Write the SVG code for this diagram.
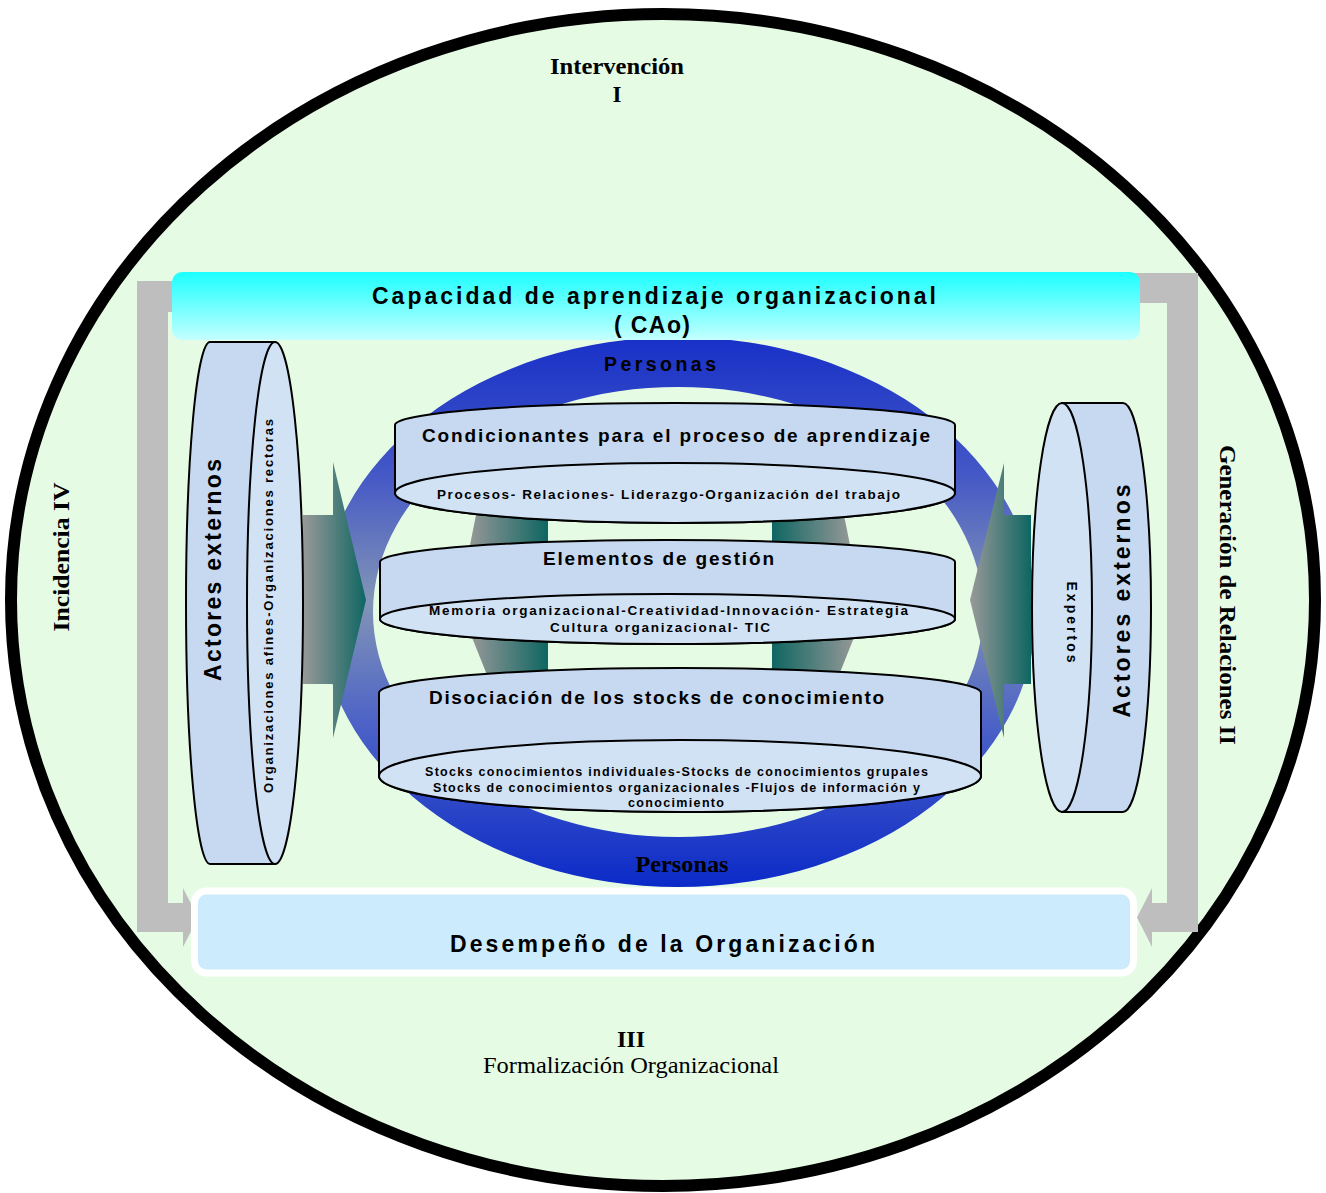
<svg xmlns="http://www.w3.org/2000/svg" width="1326" height="1193" viewBox="0 0 1326 1193">
<defs>
<style>
.s{font-family:"Liberation Sans",Arial,sans-serif;font-weight:bold;fill:#000}
.t{font-family:"Liberation Serif","Times New Roman",serif;fill:#000}
.tb{font-family:"Liberation Serif","Times New Roman",serif;font-weight:bold;fill:#000}
.body{fill:#C6D9F0;stroke:#000;stroke-width:2}
.face{fill:#D1E2F5;stroke:#000;stroke-width:2}
.gray{fill:#BEBEBE}
</style>
<linearGradient id="hdr" x1="0" y1="0" x2="0" y2="1">
<stop offset="0" stop-color="#1CFFFF"/>
<stop offset="1" stop-color="#C4FFFF"/>
</linearGradient>
<linearGradient id="ring" x1="0" y1="0" x2="0" y2="1">
<stop offset="0" stop-color="#1830C8"/>
<stop offset="0.25" stop-color="#4458C6"/>
<stop offset="0.48" stop-color="#8395B6"/>
<stop offset="0.7" stop-color="#4D63C6"/>
<stop offset="1" stop-color="#0B2AC8"/>
</linearGradient>
<linearGradient id="gt" x1="0" y1="0" x2="1" y2="0">
<stop offset="0" stop-color="#999999"/>
<stop offset="1" stop-color="#0E6662"/>
</linearGradient>
<linearGradient id="tg" x1="0" y1="0" x2="1" y2="0">
<stop offset="0" stop-color="#0E6662"/>
<stop offset="1" stop-color="#999999"/>
</linearGradient>
</defs>

<g id="background">
<ellipse cx="663" cy="600" rx="652" ry="586" fill="#E6FBE4" stroke="#000" stroke-width="12"/>
</g>

<g id="connectors">
<path id="arrow-incidencia" class="gray" d="M137,281 H176 V312 H168 V903 H183 V888 L198,917.5 L183,947 V932 H137 Z"/>
<path id="arrow-generacion" class="gray" d="M1134,273 H1198 V932 H1152 V947 L1137,917.5 L1152,888 V903 H1167 V303 H1134 Z"/>
</g>

<g id="personas-ring">
<path fill="url(#ring)" fill-rule="evenodd" d="M320,612 A358,275 0 1 0 1036,612 A358,275 0 1 0 320,612 Z M373,612 A305,225 0 1 0 983,612 A305,225 0 1 0 373,612 Z"/>
<text class="s" x="660" y="371" font-size="19.5" text-anchor="middle" textLength="112" lengthAdjust="spacing">Personas</text>
<text class="tb" x="682" y="872" font-size="24" text-anchor="middle" textLength="93" lengthAdjust="spacingAndGlyphs">Personas</text>
</g>

<g id="header">
<rect x="172" y="272" width="968" height="68" rx="10" fill="url(#hdr)"/>
<text class="s" x="654" y="304" font-size="23" text-anchor="middle" textLength="564" lengthAdjust="spacing">Capacidad de aprendizaje organizacional</text>
<text class="s" x="652" y="333" font-size="23" text-anchor="middle" textLength="76" lengthAdjust="spacing">( CAo)</text>
</g>

<g id="inner-arrows">
<polygon fill="url(#gt)" points="478,505 548,505 548,560 467,560"/>
<polygon fill="url(#tg)" points="772,505 842,505 853,560 772,560"/>
<polygon fill="url(#gt)" points="469,630 548,630 548,690 493,690"/>
<polygon fill="url(#tg)" points="772,630 857,630 833,690 772,690"/>
</g>

<g id="side-arrows">
<path fill="url(#gt)" d="M303,515 H333 V462 L366,600 L333,738 V684 H303 Z"/>
<path fill="url(#gt)" d="M1031,515 H1004 V463 L970,600 L1004,738 V684 H1031 Z"/>
</g>

<g id="cyl-condicionantes">
<path class="body" d="M395,425 A280,22 0 0 1 955,425 V493 A280,30 0 0 1 395,493 Z"/>
<ellipse class="face" cx="675" cy="493" rx="280" ry="30"/>
<text class="s" x="676" y="442" font-size="19" text-anchor="middle" textLength="508" lengthAdjust="spacing">Condicionantes para el proceso de aprendizaje</text>
<text class="s" x="668.5" y="499" font-size="13.5" text-anchor="middle" textLength="463" lengthAdjust="spacing">Procesos- Relaciones- Liderazgo-Organización del trabajo</text>
</g>

<g id="cyl-elementos">
<path class="body" d="M380,562 A287.5,22 0 0 1 955,562 V619 A287.5,25 0 0 1 380,619 Z"/>
<ellipse class="face" cx="667.5" cy="619" rx="287.5" ry="25"/>
<text class="s" x="658.5" y="565" font-size="19" text-anchor="middle" textLength="231" lengthAdjust="spacing">Elementos de gestión</text>
<text class="s" x="668.5" y="615" font-size="13.5" text-anchor="middle" textLength="479" lengthAdjust="spacing">Memoria organizacional-Creatividad-Innovación- Estrategia</text>
<text class="s" x="660" y="632" font-size="13.5" text-anchor="middle" textLength="220" lengthAdjust="spacing">Cultura organizacional- TIC</text>
</g>

<g id="cyl-disociacion">
<path class="body" d="M379,693 A301,25 0 0 1 981,693 V776 A301,36 0 0 1 379,776 Z"/>
<ellipse class="face" cx="680" cy="776" rx="301" ry="36"/>
<text class="s" x="656.5" y="704" font-size="19" text-anchor="middle" textLength="455" lengthAdjust="spacing">Disociación de los stocks de conocimiento</text>
<text class="s" x="676.5" y="776" font-size="12.5" text-anchor="middle" textLength="503" lengthAdjust="spacing">Stocks conocimientos individuales-Stocks de conocimientos grupales</text>
<text class="s" x="676.5" y="792" font-size="12.5" text-anchor="middle" textLength="487" lengthAdjust="spacing">Stocks de conocimientos organizacionales -Flujos de información y</text>
<text class="s" x="676" y="807" font-size="12.5" text-anchor="middle" textLength="96" lengthAdjust="spacing">conocimiento</text>
</g>

<g id="cyl-actores-left">
<path class="body" d="M210,342 H275 V864 H210 A24,261 0 0 1 210,342 Z"/>
<ellipse class="face" cx="275" cy="603" rx="28" ry="261"/>
<text class="s" transform="translate(221,570) rotate(-90)" x="0" y="0" font-size="23" text-anchor="middle" textLength="222" lengthAdjust="spacing">Actores externos</text>
<text class="s" transform="translate(273,606) rotate(-90)" x="0" y="0" font-size="13" text-anchor="middle" textLength="374" lengthAdjust="spacing">Organizaciones afines-Organizaciones rectoras</text>
</g>

<g id="cyl-actores-right">
<path class="body" d="M1062,403 H1123 A28,204.5 0 0 1 1123,812 H1062 Z"/>
<ellipse class="face" cx="1062" cy="607.5" rx="30" ry="204.5"/>
<text class="s" transform="translate(1130,601) rotate(-90)" x="0" y="0" font-size="23" text-anchor="middle" textLength="233" lengthAdjust="spacing">Actores externos</text>
<text class="s" transform="translate(1067,622) rotate(90)" x="0" y="0" font-size="14" text-anchor="middle" textLength="81" lengthAdjust="spacing">Expertos</text>
</g>

<g id="desempeno">
<rect x="194.5" y="891" width="939" height="82" rx="12" fill="#CCEBFD" stroke="#FFFFFF" stroke-width="7"/>
<text class="s" x="662.5" y="952" font-size="23" text-anchor="middle" textLength="425" lengthAdjust="spacing">Desempeño de la Organización</text>
</g>

<g id="labels">
<text class="tb" x="617" y="74" font-size="23" text-anchor="middle" textLength="134" lengthAdjust="spacingAndGlyphs">Intervención</text>
<text class="tb" x="617" y="102" font-size="23" text-anchor="middle">I</text>
<text class="tb" transform="translate(69,557) rotate(-90)" x="0" y="0" font-size="24" text-anchor="middle" textLength="149" lengthAdjust="spacingAndGlyphs">Incidencia  IV</text>
<text class="tb" transform="translate(1220,595) rotate(90)" x="0" y="0" font-size="24" text-anchor="middle" textLength="300" lengthAdjust="spacingAndGlyphs">Generación de Relaciones  II</text>
<text class="tb" x="631" y="1047" font-size="24" text-anchor="middle">III</text>
<text class="t" x="631" y="1073" font-size="24" text-anchor="middle" textLength="296" lengthAdjust="spacingAndGlyphs">Formalización Organizacional</text>
</g>
</svg>
